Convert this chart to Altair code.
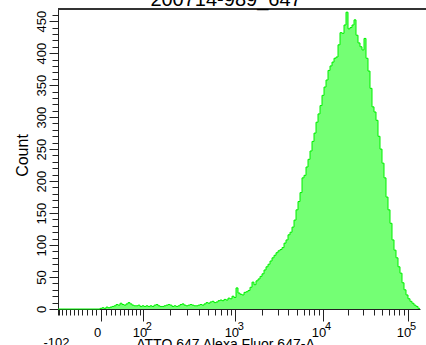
import numpy as np
import pandas as pd
import altair as alt

# ---- text ----
TITLE = "200714-989_647"
X_TITLE = "ATTO 647 Alexa Fluor 647-A"
Y_TITLE = "Count"

# ---- display range of the fluorescence axis (raw units) ----
X_MIN, X_MAX = -102, 140000

# ---- histogram: events per channel, channels evenly spaced on the biex display ----
COUNTS = [
    0, 0, 0, 0, 0, 0, 0, 0, 0, 0, 0, 0, 0, 0, 0, 0, 0, 0, 0, 0, 0,
    1, 2, 1, 3, 2, 3, 4, 5, 7, 6, 9, 7, 6, 8, 10, 8, 6, 5, 5, 6,
    4, 5, 4, 5, 4, 5, 4, 6, 7, 5, 4, 4, 5, 6, 7, 6, 4, 5, 4, 5,
    7, 8, 6, 5, 6, 7, 6, 5, 5, 6, 7, 6, 8, 10, 9, 11, 12, 10, 11, 13,
    14, 13, 15, 14, 17, 16, 20, 18, 33, 25, 23, 22, 26, 27, 29, 34, 42, 38, 44, 47,
    51, 55, 61, 66, 70, 75, 80, 84, 88, 91, 93, 96, 103, 108, 116, 120, 128, 139, 155, 168,
    182, 205, 209, 222, 234, 247, 262, 275, 292, 305, 318, 334, 347, 358, 373, 380, 386, 392, 394, 413,
    432, 431, 444, 464, 438, 440, 444, 452, 428, 416, 410, 405, 423, 392, 372, 345, 316, 308, 295, 270,
    250, 228, 205, 175, 155, 134, 108, 92, 80, 66, 56, 41, 30, 22, 16, 12, 9, 6, 4, 1,
]

# ---- axis ticks ----
X_MAJOR = [0, 100, 1000, 10000, 100000]
X_MAJOR_TEXT = ["0", "10", "10", "10", "10"]
X_EXPONENT = ["", "2", "3", "4", "5"]
X_MINOR = ([-100, -90, -80, -70, -60, -50, -40, -30, -20, -10]
           + [10, 20, 30, 40, 50, 60, 70, 80, 90]
           + [200, 300, 400, 500, 600, 700, 800, 900]
           + [2000, 3000, 4000, 5000, 6000, 7000, 8000, 9000]
           + [20000, 30000, 40000, 50000, 60000, 70000, 80000, 90000])
Y_MAX = 469
Y_MAJOR = list(range(0, 451, 50))
Y_MINOR = [v for v in range(0, 461, 10) if v % 50]

# ---- biexponential (logicle-style) display transform ----
BIEX_A = 24.2
BIEX_P = 2.2


def biex(values):
    """Raw value -> display position in decades from zero."""
    v = np.asarray(values, dtype=float)
    target = np.abs(v) / BIEX_A
    lo = np.zeros_like(target)
    hi = np.full_like(target, 8.0)
    p2 = BIEX_P * BIEX_P
    for _ in range(80):
        mid = (lo + hi) / 2
        s = 10 ** mid - p2 * 10 ** (-mid / BIEX_P) + p2 - 1
        below = s < target
        lo = np.where(below, mid, lo)
        hi = np.where(below, hi, mid)
    return np.sign(v) * (lo + hi) / 2


LEFT = float(biex(X_MIN))
RIGHT = float(biex(X_MAX))
n = len(COUNTS)
edges = LEFT + (RIGHT - LEFT) * np.arange(n + 1) / n
hist = pd.DataFrame({"pos": edges, "count": COUNTS + [COUNTS[-1]]})

major_pos = [float(u) for u in biex(X_MAJOR)]
minor_pos = [float(u) for u in biex(X_MINOR)]


def near(u):
    return f"abs(datum.value - ({u:.6f})) < 1e-4"


def label_expr(pairs):
    expr = "''"
    for u, txt in reversed(pairs):
        expr = f"{near(u)} ? '{txt}' : ({expr})"
    return expr


FONT = "Liberation Sans"
AXIS_COLOR = "#222222"
W, H = 362, 300

x_scale = alt.Scale(domain=[LEFT, RIGHT], nice=False, zero=False)
y_scale = alt.Scale(domain=[0, Y_MAX], nice=False)

common = dict(grid=False, domainColor=AXIS_COLOR, tickColor=AXIS_COLOR,
              labelFont=FONT, labelColor="black", labelOverlap=False)

# y: labelled majors every 50, unlabelled minors every 10
y_major = alt.Axis(
    title=Y_TITLE, orient="left", values=Y_MAJOR, tickSize=9,
    labelAngle=270, labelAlign="center", labelBaseline="bottom",
    labelPadding=1, labelFontSize=13,
    titleFont=FONT, titleFontSize=16, titleFontWeight="normal", titleColor="black",
    titleAngle=270, titleAlign="center", titleBaseline="alphabetic",
    titleX=-31, titleY=146, **common,
)
y_minor = alt.Axis(title=None, orient="left", values=Y_MINOR, tickSize=6,
                   labels=False, domain=False, **common)

# x: decade majors, minor ticks, raised exponents, and the range minimum
x_major = alt.Axis(
    title=X_TITLE, orient="bottom", values=major_pos, tickSize=12,
    labelExpr=label_expr(list(zip(major_pos, X_MAJOR_TEXT))),
    labelPadding=5, labelOffset=-4, labelFlush=False, labelFontSize=13,
    titleFont=FONT, titleFontSize=14, titleFontWeight="normal", titleColor="black",
    titleX=167, titleY=39, titleBaseline="alphabetic", titleAlign="center", **common,
)
x_minor = alt.Axis(title=None, orient="bottom", values=minor_pos + [LEFT], tickSize=6,
                   labels=False, domain=False, **common)
x_exp = alt.Axis(
    title=None, orient="bottom", values=major_pos, tickSize=12, tickOpacity=0,
    domain=False, labelExpr=label_expr(list(zip(major_pos, X_EXPONENT))),
    labelPadding=-1, labelOffset=5, labelFlush=False, labelFontSize=11, **common,
)
x_min = alt.Axis(
    title=None, orient="bottom", values=[LEFT], tickSize=6, tickOpacity=0,
    domain=False, labelExpr=f"'{X_MIN}'", labelPadding=21, labelOffset=-2,
    labelFlush=False, labelFontSize=13, **common,
)

area = alt.Chart(hist).mark_area(
    interpolate="step-after", color="#74ff74", opacity=1
).encode(
    x=alt.X("pos:Q", scale=x_scale, axis=x_major),
    y=alt.Y("count:Q", scale=y_scale, axis=y_major),
)

outline = alt.Chart(hist).mark_line(
    interpolate="step-after", color="#00f000", strokeWidth=1
).encode(
    x=alt.X("pos:Q", scale=x_scale, axis=x_minor),
    y=alt.Y("count:Q", scale=y_scale, axis=y_minor),
)

exp_layer = alt.Chart(hist).mark_line(opacity=0).encode(
    x=alt.X("pos:Q", scale=x_scale, axis=x_exp),
    y=alt.Y("count:Q", scale=y_scale, axis=None),
)

min_layer = alt.Chart(hist).mark_line(opacity=0).encode(
    x=alt.X("pos:Q", scale=x_scale, axis=x_min),
    y=alt.Y("count:Q", scale=y_scale, axis=None),
)

frame_top = alt.Chart(hist).mark_rule(color="#333333", strokeWidth=1.5).encode(
    x=alt.value(0), x2=alt.value(W + 6), y=alt.value(0)
)

title_text = alt.Chart(pd.DataFrame({"t": [TITLE]})).mark_text(
    font=FONT, fontSize=20, color="black", align="center", baseline="alphabetic"
).encode(text="t:N", x=alt.value(168), y=alt.value(-3))

chart = (
    alt.layer(area, outline, exp_layer, min_layer, frame_top, title_text)
    .resolve_axis(x="independent", y="independent")
    .properties(
        width=W, height=H,
        autosize=alt.AutoSizeParams(type="none"),
        padding={"left": 58, "top": 9, "right": 6, "bottom": 36},
        background="white",
    )
    .configure_view(stroke=None)
)

chart.save("out.html", embed_options={"renderer": "svg", "actions": False})
